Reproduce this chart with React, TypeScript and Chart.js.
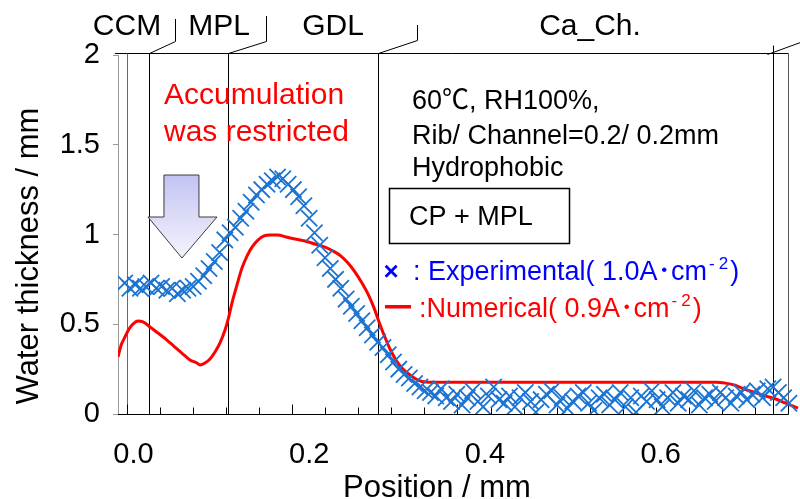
import { useEffect, useRef } from "react";
import { Chart, registerables } from "chart.js";

Chart.register(...registerables);

// Axis ticks
const xTickValues = [0, 0.2, 0.4, 0.6];
const yTickValues = [0, 0.5, 1, 1.5, 2];

// Layer boundaries along the through-plane position (mm): CCM | MPL | GDL | Ca_Ch. | end
const layerNames = ["CCM", "MPL", "GDL", "Ca_Ch."];
const layerEdges = [-0.0074, 0.0176, 0.1076, 0.2783, 0.7279];

// Experimental water thickness (1.0 A/cm2)
const expPosition = [
  -0.010, -0.004, 0.002, 0.008, 0.014, 0.020, 0.026, 0.032, 0.038, 0.044,
  0.050, 0.056, 0.062, 0.068, 0.074, 0.080, 0.086, 0.092, 0.098, 0.104,
  0.110, 0.116, 0.122, 0.128, 0.134, 0.140, 0.146, 0.152, 0.158, 0.164,
  0.170, 0.176, 0.182, 0.188, 0.194, 0.200, 0.206, 0.212, 0.218, 0.224,
  0.230, 0.236, 0.242, 0.248, 0.254, 0.260, 0.266, 0.272, 0.278, 0.284,
  0.290, 0.296, 0.302, 0.308, 0.314, 0.320, 0.326, 0.332, 0.338, 0.344,
  0.350, 0.356, 0.362, 0.368, 0.374, 0.380, 0.386, 0.392, 0.398, 0.404,
  0.410, 0.416, 0.422, 0.428, 0.434, 0.440, 0.446, 0.452, 0.458, 0.464,
  0.470, 0.476, 0.482, 0.488, 0.494, 0.500, 0.506, 0.512, 0.518, 0.524,
  0.530, 0.536, 0.542, 0.548, 0.554, 0.560, 0.566, 0.572, 0.578, 0.584,
  0.590, 0.596, 0.602, 0.608, 0.614, 0.620, 0.626, 0.632, 0.638, 0.644,
  0.650, 0.656, 0.662, 0.668, 0.674, 0.680, 0.686, 0.692, 0.698, 0.704,
  0.710, 0.716, 0.722, 0.728, 0.734, 0.740, 0.746,
];
const expThickness = [
  0.73, 0.70, 0.72, 0.70, 0.71, 0.73, 0.70, 0.71, 0.69, 0.70,
  0.67, 0.69, 0.70, 0.71, 0.74, 0.77, 0.81, 0.85, 0.90, 0.97,
  1.01, 1.04, 1.09, 1.13, 1.18, 1.22, 1.25, 1.28, 1.30, 1.32,
  1.31, 1.28, 1.25, 1.21, 1.16, 1.09, 1.01, 0.94, 0.87, 0.81,
  0.75, 0.70, 0.64, 0.60, 0.56, 0.52, 0.48, 0.44, 0.40, 0.37,
  0.33, 0.29, 0.25, 0.22, 0.20, 0.17, 0.15, 0.13, 0.12, 0.10,
  0.14, 0.09, 0.07, 0.11, 0.05, 0.09, 0.13, 0.07, 0.04, 0.10,
  0.15, 0.08, 0.06, 0.10, 0.04, 0.09, 0.12, 0.07, 0.01, 0.08,
  0.11, 0.13, 0.05, 0.09, 0.03, 0.07, 0.10, 0.12, 0.06, 0.02,
  0.09, 0.11, 0.05, 0.08, 0.12, 0.04, 0.09, 0.01, 0.10, 0.07,
  0.13, 0.08, 0.04, 0.09, 0.12, 0.06, 0.10, 0.08, 0.13, 0.05,
  0.09, 0.11, 0.07, 0.12, 0.09, 0.06, 0.10, 0.12, 0.08, 0.11,
  0.13, 0.09, 0.14, 0.15, 0.12, 0.09, 0.06,
];

// Numerical water thickness (0.9 A/cm2)
const numPosition = [
  -0.0176, -0.014, -0.0097, -0.005, -0.0006, 0.0051, 0.0108, 0.0188, 0.0279, 0.0381,
  0.0472, 0.0563, 0.0643, 0.0723, 0.0757, 0.0814, 0.0871, 0.0928, 0.0985, 0.1042,
  0.1076, 0.1121, 0.1178, 0.1235, 0.1292, 0.1349, 0.1417, 0.1486, 0.1554, 0.1645,
  0.1736, 0.1838, 0.1952, 0.2066, 0.218, 0.2271, 0.2362, 0.2442, 0.2522, 0.2601,
  0.2669, 0.2738, 0.2795, 0.2852, 0.292, 0.2988, 0.3056, 0.3147, 0.3238, 0.3329,
  0.3409, 0.40, 0.50, 0.60, 0.664, 0.6733, 0.6847, 0.696, 0.7074, 0.7188,
  0.7302, 0.7416, 0.7564,
];
const numThickness = [
  0.318, 0.384, 0.429, 0.474, 0.501, 0.518, 0.513, 0.485, 0.451, 0.412,
  0.373, 0.334, 0.301, 0.284, 0.273, 0.284, 0.306, 0.345, 0.396, 0.468,
  0.524, 0.618, 0.719, 0.813, 0.880, 0.930, 0.969, 0.992, 0.997, 0.997,
  0.986, 0.975, 0.964, 0.947, 0.930, 0.908, 0.880, 0.841, 0.791, 0.730,
  0.669, 0.591, 0.513, 0.440, 0.362, 0.301, 0.256, 0.217, 0.189, 0.178,
  0.177, 0.177, 0.177, 0.177, 0.177, 0.172, 0.160, 0.138, 0.119, 0.101,
  0.085, 0.062, 0.033,
];

const FONT = "'Liberation Sans', Arial, 'Noto Sans CJK JP', sans-serif";

function drawText(
  ctx: CanvasRenderingContext2D,
  s: string,
  x: number,
  y: number,
  size: number,
  color: string,
  align: CanvasTextAlign = "left",
  weight = "normal"
) {
  ctx.font = `${weight} ${size}px ${FONT}`;
  ctx.fillStyle = color;
  ctx.textAlign = align;
  ctx.textBaseline = "alphabetic";
  ctx.fillText(s, x, y);
  return ctx.measureText(s).width;
}

function seg(ctx: CanvasRenderingContext2D, pts: number[][]) {
  ctx.beginPath();
  ctx.moveTo(pts[0][0], pts[0][1]);
  for (let i = 1; i < pts.length; i++) ctx.lineTo(pts[i][0], pts[i][1]);
  ctx.stroke();
}

// Label with a "cm⁻²"-style superscript tail
function unitLabel(
  ctx: CanvasRenderingContext2D,
  head: string,
  x: number,
  y: number,
  color: string
) {
  const w = drawText(ctx, head, x, y, 27, color);
  let cx = x + w + 2;
  cx += drawText(ctx, "-", cx, y - 11, 17, color) + 4;
  cx += drawText(ctx, "2", cx, y - 11, 17, color) + 2;
  drawText(ctx, ")", cx, y, 27, color);
}

const decorPlugin = {
  id: "decor",
  beforeDatasetsDraw(chart: any) {
    const { ctx, chartArea, scales } = chart;
    const xs = scales.x;
    const ys = scales.y;
    const top = Math.round(ys.getPixelForValue(2)) - 1.5;
    const bottom = Math.round(ys.getPixelForValue(0)) + 0.5;
    const left = chartArea.left;
    const frameRight = Math.round(xs.getPixelForValue(0.745)) + 0.5;
    const edgePx = layerEdges.map((v) => Math.round(xs.getPixelForValue(v)) + 0.5);

    ctx.save();
    ctx.lineWidth = 1;

    // frame top and bottom axis
    ctx.strokeStyle = "#000";
    seg(ctx, [[left - 3, top], [frameRight, top]]);
    seg(ctx, [[left, bottom], [frameRight, bottom]]);

    // layer boundary lines
    edgePx.forEach((p, i) => {
      ctx.strokeStyle = i === 0 ? "#6a6a6a" : "#000";
      seg(ctx, [[p, top], [p, bottom]]);
    });
    ctx.strokeStyle = "#555";
    seg(ctx, [[frameRight, top], [frameRight, bottom]]);

    // inward tick marks along the bottom axis
    ctx.strokeStyle = "#000";
    const step = 0.03762;
    for (let k = 0; k <= 20; k++) {
      const p = Math.round(xs.getPixelForValue(layerEdges[0] + k * step)) + 0.5;
      const len = k % 5 === 0 ? 10 : 7;
      seg(ctx, [[p, bottom], [p, bottom - len]]);
    }

    // block arrow pointing at the suppressed accumulation
    const tx = xs.getPixelForValue(0.0552);
    const ty = ys.getPixelForValue(0.869);
    const arrow = [
      [tx - 18, ty - 83],
      [tx + 17, ty - 83],
      [tx + 17, ty - 41],
      [tx + 35, ty - 41],
      [tx, ty],
      [tx - 34, ty - 41],
      [tx - 18, ty - 41],
    ];
    const g = ctx.createLinearGradient(0, ty - 83, 0, ty);
    g.addColorStop(0, "#c3c3f3");
    g.addColorStop(1, "#f4f4fd");
    ctx.beginPath();
    arrow.forEach(([ax, ay], i) => (i ? ctx.lineTo(ax, ay) : ctx.moveTo(ax, ay)));
    ctx.closePath();
    ctx.fillStyle = g;
    ctx.fill();
    ctx.strokeStyle = "#3a3a3a";
    ctx.stroke();
    ctx.restore();
  },
  afterDraw(chart: any) {
    const { ctx, scales } = chart;
    const xs = scales.x;
    const ys = scales.y;
    const top = Math.round(ys.getPixelForValue(2)) - 1.5;
    const edgePx = layerEdges.map((v) => Math.round(xs.getPixelForValue(v)) + 0.5);

    ctx.save();
    ctx.lineWidth = 1;
    ctx.strokeStyle = "#000";

    // leader lines from the boundaries to the layer names
    seg(ctx, [[edgePx[1], top], [edgePx[1] + 26, top - 12], [edgePx[1] + 26, 19]]);
    seg(ctx, [[edgePx[2], top], [edgePx[2] + 38, top - 12], [edgePx[2] + 38, 16]]);
    seg(ctx, [[edgePx[3], top], [edgePx[3] + 39, top - 13], [edgePx[3] + 39, 25]]);
    seg(ctx, [[edgePx[4] - 6, top + 1], [edgePx[4] + 27, top - 11]]);
    seg(ctx, [[edgePx[4], top - 8], [edgePx[4], top]]);

    // layer names
    const nameCenters = [127, 219, 333, 590];
    layerNames.forEach((n, i) => drawText(ctx, n, nameCenters[i], 35, 30, "#000", "center"));

    // note in red
    drawText(ctx, "Accumulation", 164, 104, 30, "#ff0000");
    drawText(ctx, "was restricted", 164, 141, 30, "#ff0000");

    // operating conditions
    drawText(ctx, "60℃, RH100%,", 412, 109, 27, "#000");
    drawText(ctx, "Rib/ Channel=0.2/ 0.2mm", 412, 144, 27, "#000");
    drawText(ctx, "Hydrophobic", 412, 176, 27, "#000");

    // material box
    ctx.lineWidth = 1.5;
    ctx.strokeRect(389.5, 188.5, 180, 55);
    drawText(ctx, "CP + MPL", 409, 225, 27, "#000");

    // legend
    drawText(ctx, "×", 391, 280, 26, "#0000ff", "center", "bold");
    unitLabel(ctx, ": Experimental( 1.0A･cm", 413, 280, "#0000ff");
    ctx.fillStyle = "#ff0000";
    ctx.fillRect(385, 305, 26, 3.5);
    unitLabel(ctx, ":Numerical( 0.9A･cm", 419, 317, "#ff0000");

    // axis titles
    drawText(ctx, "Position / mm", 437, 497, 31, "#000", "center");
    ctx.translate(38, 256);
    ctx.rotate(-Math.PI / 2);
    drawText(ctx, "Water thickness / mm", 0, 0, 31, "#000", "center");
    ctx.restore();
  },
};

export default function App() {
  const canvasRef = useRef<HTMLCanvasElement | null>(null);

  useEffect(() => {
    const canvas = canvasRef.current;
    if (!canvas) return;
    const chart = new Chart(canvas, {
      type: "scatter",
      data: {
        datasets: [
          {
            label: "Experimental",
            data: expPosition.map((x, i) => ({ x, y: expThickness[i] })),
            showLine: false,
            pointStyle: "crossRot",
            pointRadius: 11.5,
            pointBorderWidth: 1.8,
            borderColor: "#1c74d2",
            backgroundColor: "rgba(0,0,0,0)",
            order: 0,
          },
          {
            label: "Numerical",
            data: numPosition.map((x, i) => ({ x, y: numThickness[i] })),
            showLine: true,
            borderColor: "#ff0000",
            borderWidth: 3,
            pointRadius: 0,
            cubicInterpolationMode: "monotone",
            order: 1,
          },
        ],
      } as any,
      options: {
        responsive: false,
        animation: false,
        devicePixelRatio: 1,
        layout: { autoPadding: false, padding: { top: 55, right: 1, left: 0, bottom: 0 } },
        plugins: { legend: { display: false }, tooltip: { enabled: false } },
        scales: {
          x: {
            type: "linear",
            min: -0.0176,
            max: 0.7575,
            afterBuildTicks: (s: any) => {
              s.ticks = xTickValues.map((v) => ({ value: v }));
            },
            afterFit: (s: any) => {
              s.height = 85;
              s.paddingLeft = 0;
              s.paddingRight = 0;
            },
            grid: { display: false },
            border: { display: false },
            ticks: {
              font: { family: FONT, size: 29 },
              color: "#000",
              padding: 16,
              maxRotation: 0,
              autoSkip: false,
              callback: (v: any) => Number(v).toFixed(1),
            },
          },
          y: {
            type: "linear",
            min: 0,
            max: 2,
            afterBuildTicks: (s: any) => {
              s.ticks = yTickValues.map((v) => ({ value: v }));
            },
            afterFit: (s: any) => {
              s.width = 118;
              s.paddingTop = 0;
              s.paddingBottom = 0;
            },
            grid: { drawOnChartArea: false, drawTicks: true, tickLength: 5, color: "#9a9a9a" },
            border: { color: "#9a9a9a" },
            ticks: {
              font: { family: FONT, size: 29 },
              color: "#000",
              padding: 13,
              callback: (v: any) => String(v),
            },
          },
        },
      } as any,
      plugins: [decorPlugin],
    });
    return () => chart.destroy();
  }, []);

  return (
    <div style={{ position: "fixed", left: 0, top: 0, width: 800, height: 499, background: "#fff" }}>
      <canvas ref={canvasRef} width={800} height={499} style={{ display: "block" }} />
    </div>
  );
}
